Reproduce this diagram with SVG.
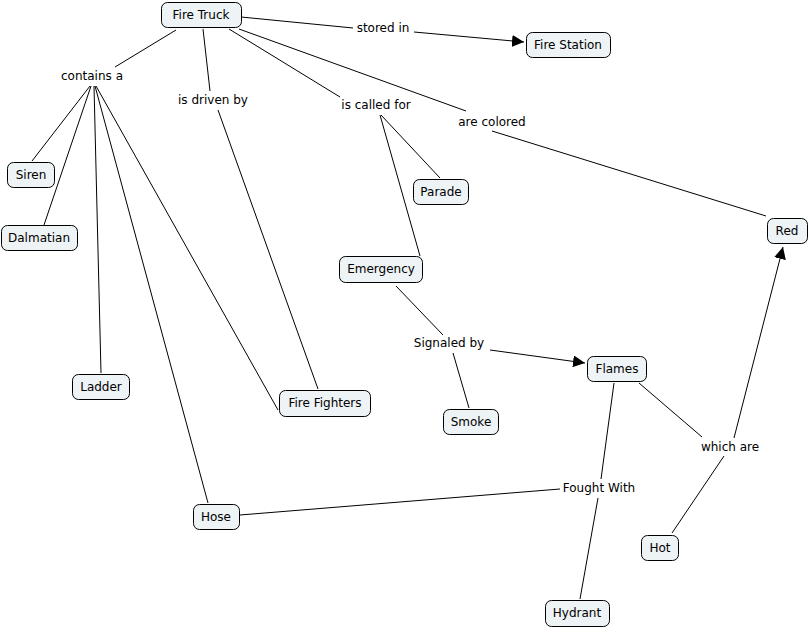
<svg xmlns="http://www.w3.org/2000/svg" width="809" height="629" viewBox="0 0 809 629">
<defs>
<style>
.n rect{fill:#eef3f5;stroke:#000;stroke-width:1}
text{font-family:"DejaVu Sans",Verdana,sans-serif;font-size:12px;fill:#000;text-anchor:middle;dominant-baseline:central}
.c line{stroke:#000;stroke-width:1;fill:none}
</style>
<marker id="ah" viewBox="0 0 10 10" refX="10" refY="5" markerWidth="12" markerHeight="12" markerUnits="userSpaceOnUse" orient="auto"><path d="M0,0L10,5L0,10z" fill="#000"/></marker>
</defs>
<rect width="809" height="629" fill="#fff"/>
<g id="connectors" class="c">
<line x1="241" y1="17" x2="353" y2="28"/>
<line x1="414" y1="32" x2="524" y2="42" marker-end="url(#ah)"/>
<line x1="176" y1="30" x2="115" y2="67"/>
<line x1="90" y1="86" x2="32" y2="161"/>
<line x1="91" y1="86" x2="44" y2="225"/>
<line x1="94" y1="86" x2="101" y2="373"/>
<line x1="95" y1="86" x2="208" y2="503"/>
<line x1="96" y1="86" x2="278" y2="410"/>
<line x1="203" y1="29" x2="210" y2="91"/>
<line x1="218" y1="110" x2="318" y2="389"/>
<line x1="229" y1="29" x2="340" y2="97"/>
<line x1="381" y1="115" x2="440" y2="178"/>
<line x1="380" y1="115" x2="420" y2="256"/>
<line x1="239" y1="29" x2="466" y2="111"/>
<line x1="492" y1="131" x2="766" y2="216"/>
<line x1="396" y1="286" x2="443" y2="335"/>
<line x1="453" y1="353" x2="469" y2="408"/>
<line x1="490" y1="350" x2="585" y2="363" marker-end="url(#ah)"/>
<line x1="639" y1="383" x2="702" y2="437"/>
<line x1="734" y1="438" x2="783" y2="247" marker-end="url(#ah)"/>
<line x1="724" y1="456" x2="672" y2="533"/>
<line x1="614" y1="383" x2="601" y2="479"/>
<line x1="560" y1="489" x2="240" y2="515"/>
<line x1="598" y1="498" x2="580" y2="599"/>
</g>
<g id="labels">
<text x="383" y="28">stored in</text>
<text x="92" y="76">contains a</text>
<text x="213" y="100">is driven by</text>
<text x="376" y="105">is called for</text>
<text x="492" y="122">are colored</text>
<text x="449" y="343">Signaled by</text>
<text x="730" y="447">which are</text>
<text x="599" y="488">Fought With</text>
</g>
<g id="fire-truck" class="n"><rect x="161.5" y="2.5" width="80" height="25" rx="6"/><text x="201" y="15">Fire Truck</text></g>
<g id="fire-station" class="n"><rect x="526.5" y="32.5" width="84" height="25" rx="6"/><text x="568" y="45">Fire Station</text></g>
<g id="siren" class="n"><rect x="7.5" y="162.5" width="47" height="25" rx="6"/><text x="31" y="175">Siren</text></g>
<g id="dalmatian" class="n"><rect x="1.5" y="225.5" width="76" height="25" rx="6"/><text x="39" y="238">Dalmatian</text></g>
<g id="parade" class="n"><rect x="413.5" y="179.5" width="55" height="25" rx="6"/><text x="441" y="192">Parade</text></g>
<g id="red" class="n"><rect x="767.5" y="218.5" width="40" height="25" rx="6"/><text x="787" y="231">Red</text></g>
<g id="emergency" class="n"><rect x="339.5" y="256.5" width="83" height="26" rx="6"/><text x="381" y="269">Emergency</text></g>
<g id="ladder" class="n"><rect x="72.5" y="374.5" width="57" height="25" rx="6"/><text x="101" y="387">Ladder</text></g>
<g id="fire-fighters" class="n"><rect x="279.5" y="390.5" width="91" height="26" rx="6"/><text x="325" y="403">Fire Fighters</text></g>
<g id="flames" class="n"><rect x="587.5" y="356.5" width="59" height="25" rx="6"/><text x="617" y="369">Flames</text></g>
<g id="smoke" class="n"><rect x="443.5" y="409.5" width="55" height="25" rx="6"/><text x="471" y="422">Smoke</text></g>
<g id="hose" class="n"><rect x="193.5" y="504.5" width="46" height="25" rx="6"/><text x="216" y="517">Hose</text></g>
<g id="hot" class="n"><rect x="641.5" y="535.5" width="37" height="25" rx="6"/><text x="660" y="548">Hot</text></g>
<g id="hydrant" class="n"><rect x="545.5" y="600.5" width="64" height="26" rx="6"/><text x="577" y="613">Hydrant</text></g>
</svg>
